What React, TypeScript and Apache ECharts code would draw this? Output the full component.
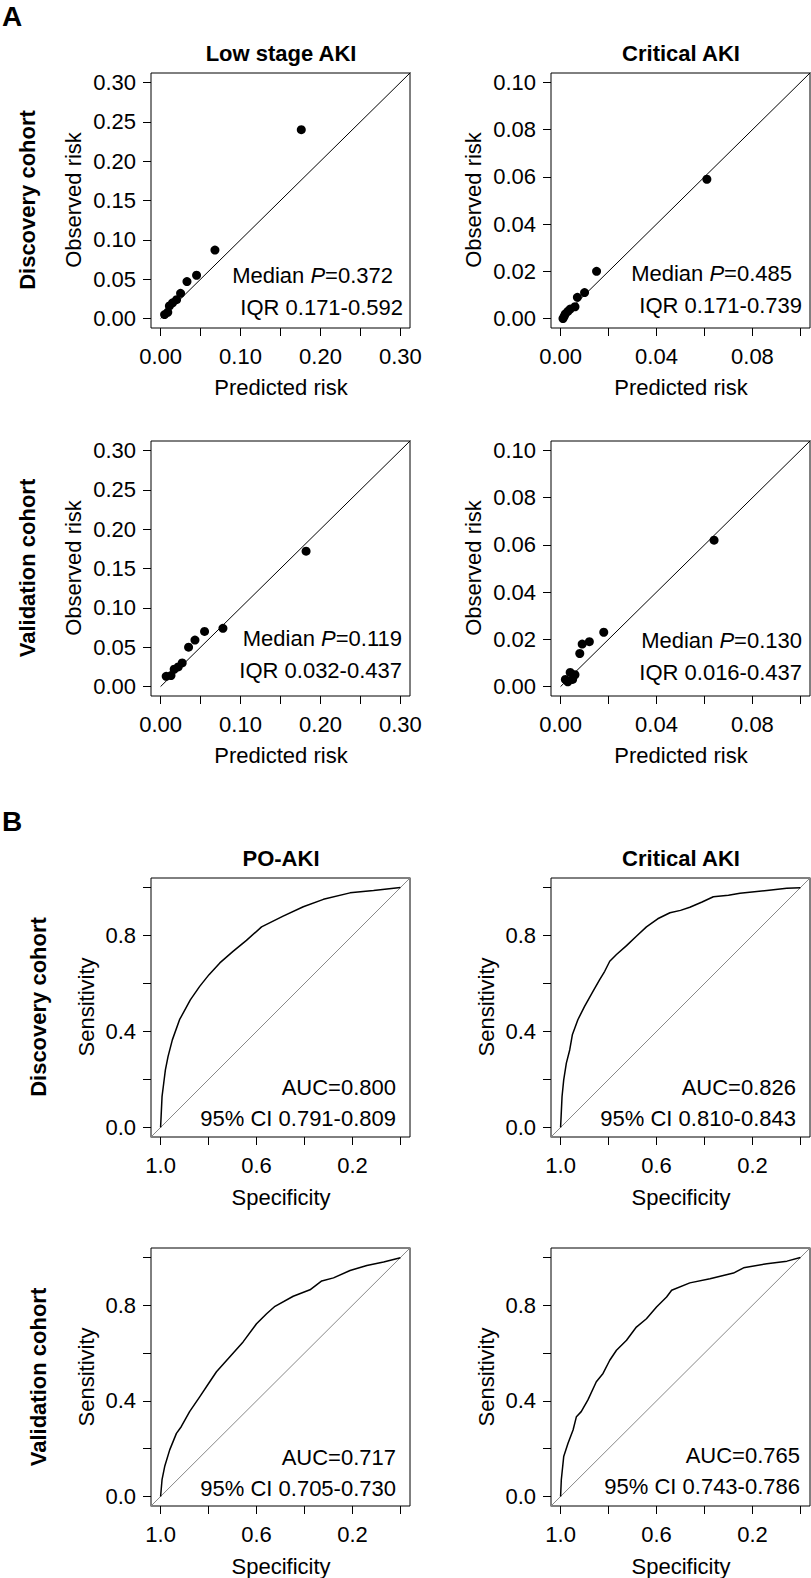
import React, { useEffect, useRef } from 'react';
import * as echarts from 'echarts';

const FONT = '"Liberation Sans", Arial, Helvetica, sans-serif';

// ---- Panel A: calibration (predicted vs observed risk) ----
const lowDiscPred = [0.176, 0.068, 0.045, 0.033, 0.025, 0.020, 0.015, 0.011, 0.009, 0.005];
const lowDiscObs = [0.240, 0.087, 0.055, 0.047, 0.032, 0.024, 0.020, 0.016, 0.008, 0.005];
const critDiscPred = [0.061, 0.015, 0.010, 0.007, 0.006, 0.004, 0.003, 0.002, 0.0015, 0.001];
const critDiscObs = [0.059, 0.020, 0.011, 0.009, 0.005, 0.004, 0.003, 0.002, 0.001, 0.000];
const lowValPred = [0.182, 0.078, 0.055, 0.043, 0.035, 0.027, 0.022, 0.017, 0.013, 0.007];
const lowValObs = [0.172, 0.074, 0.070, 0.059, 0.050, 0.030, 0.025, 0.022, 0.014, 0.013];
const critValPred = [0.064, 0.018, 0.012, 0.009, 0.008, 0.004, 0.006, 0.005, 0.002, 0.003];
const critValObs = [0.062, 0.023, 0.019, 0.018, 0.014, 0.006, 0.005, 0.003, 0.003, 0.002];

// ---- Panel B: ROC curves ----
const poDiscSpec = [1.0, 0.994, 0.987, 0.98, 0.969, 0.951, 0.921, 0.876, 0.837, 0.798, 0.753, 0.698, 0.642, 0.579, 0.489, 0.405, 0.321, 0.21, 0.112, 0.0];
const poDiscSens = [0.0, 0.128, 0.184, 0.24, 0.295, 0.365, 0.449, 0.532, 0.588, 0.637, 0.686, 0.734, 0.78, 0.836, 0.881, 0.92, 0.951, 0.978, 0.988, 1.0];
const critRocDiscSpec = [1.0, 0.994, 0.987, 0.976, 0.962, 0.951, 0.928, 0.9, 0.865, 0.837, 0.816, 0.795, 0.767, 0.725, 0.684, 0.642, 0.595, 0.544, 0.5, 0.461, 0.41, 0.363, 0.3, 0.252, 0.14, 0.057, 0.0];
const critRocDiscSens = [0.0, 0.128, 0.198, 0.268, 0.323, 0.386, 0.449, 0.505, 0.567, 0.616, 0.651, 0.693, 0.721, 0.758, 0.797, 0.836, 0.87, 0.895, 0.905, 0.918, 0.94, 0.962, 0.968, 0.976, 0.988, 0.997, 0.999];
const poValSpec = [1.0, 0.994, 0.983, 0.962, 0.934, 0.914, 0.879, 0.837, 0.795, 0.767, 0.712, 0.656, 0.6, 0.558, 0.523, 0.447, 0.377, 0.328, 0.279, 0.21, 0.14, 0.07, 0.0];
const poValSens = [0.0, 0.07, 0.125, 0.195, 0.264, 0.292, 0.355, 0.417, 0.48, 0.522, 0.584, 0.647, 0.723, 0.765, 0.796, 0.838, 0.865, 0.902, 0.915, 0.946, 0.967, 0.981, 0.999];
const critRocValSpec = [1.0, 0.997, 0.987, 0.969, 0.948, 0.934, 0.914, 0.886, 0.851, 0.823, 0.795, 0.767, 0.725, 0.684, 0.642, 0.6, 0.558, 0.537, 0.461, 0.377, 0.279, 0.237, 0.14, 0.056, 0.0];
const critRocValSens = [0.0, 0.07, 0.167, 0.223, 0.278, 0.334, 0.355, 0.404, 0.48, 0.515, 0.57, 0.612, 0.654, 0.709, 0.744, 0.793, 0.835, 0.863, 0.894, 0.911, 0.935, 0.957, 0.974, 0.985, 1.0];

// ---- tick values and labels ----
const lowTicks = [0, 0.05, 0.1, 0.15, 0.2, 0.25, 0.3];
const lowXLabels = [0, 0.1, 0.2, 0.3];
const lowYLabels = [0, 0.05, 0.1, 0.15, 0.2, 0.25, 0.3];
const critTicks = [0, 0.02, 0.04, 0.06, 0.08, 0.1];
const critXLabels = [0, 0.04, 0.08];
const critYLabels = [0, 0.02, 0.04, 0.06, 0.08, 0.1];
const rocTicks = [0, 0.2, 0.4, 0.6, 0.8, 1.0];
const rocXLabels = [1.0, 0.6, 0.2];
const rocYLabels = [0.0, 0.4, 0.8];

// ---- texts ----
const medianP = ['0.372', '0.485', '0.119', '0.130'];
const iqrText = ['IQR 0.171-0.592', 'IQR 0.171-0.739', 'IQR 0.032-0.437', 'IQR 0.016-0.437'];
const aucText = ['AUC=0.800', 'AUC=0.826', 'AUC=0.717', 'AUC=0.765'];
const ciText = ['95% CI 0.791-0.809', '95% CI 0.810-0.843', '95% CI 0.705-0.730', '95% CI 0.743-0.786'];
const panelATitles = ['Low stage AKI', 'Critical AKI'];
const panelBTitles = ['PO-AKI', 'Critical AKI'];
const cohorts = ['Discovery cohort', 'Validation cohort'];

const zip = (a: number[], b: number[]) => a.map((v, i) => [v, b[i]]);

const grids = [
  { left: 151, top: 73, width: 259, height: 255 },
  { left: 551, top: 73, width: 259, height: 255 },
  { left: 151, top: 441, width: 259, height: 255 },
  { left: 551, top: 441, width: 259, height: 255 },
  { left: 151, top: 878, width: 259, height: 259 },
  { left: 551, top: 878, width: 259, height: 259 },
  { left: 151, top: 1248, width: 259, height: 258 },
  { left: 551, top: 1248, width: 259, height: 258 },
];

function axis(gridIndex: number, min: number, max: number, ticks: number[], labels: number[], digits: number, inverse = false, isX = true) {
  return {
    type: 'value',
    gridIndex,
    min,
    max,
    inverse,
    axisLine: { show: false, onZero: false },
    axisTick: { show: true, inside: false, length: 8, customValues: ticks, lineStyle: { color: '#000', width: 1 } },
    axisLabel: {
      show: true,
      customValues: labels,
      formatter: (v: number) => Number(v).toFixed(digits),
      color: '#000',
      fontSize: 22,
      fontFamily: FONT,
      margin: isX ? 17 : 15,
    },
    splitLine: { show: false },
  };
}

export default function App() {
  const ref = useRef<HTMLDivElement>(null);
  useEffect(() => {
    if (!ref.current) return;
    const chart = echarts.init(ref.current, undefined, { renderer: 'svg' });

    const xAxes: any[] = [];
    const yAxes: any[] = [];
    const series: any[] = [];

    const calib = [
      { px: lowDiscPred, ob: lowDiscObs, low: true },
      { px: critDiscPred, ob: critDiscObs, low: false },
      { px: lowValPred, ob: lowValObs, low: true },
      { px: critValPred, ob: critValObs, low: false },
    ];
    calib.forEach((c, i) => {
      if (c.low) {
        xAxes.push(axis(i, -0.012, 0.312, lowTicks, lowXLabels, 2, false, true));
        yAxes.push(axis(i, -0.012, 0.312, lowTicks, lowYLabels, 2, false, false));
      } else {
        xAxes.push(axis(i, -0.004, 0.104, critTicks, critXLabels, 2, false, true));
        yAxes.push(axis(i, -0.004, 0.104, critTicks, critYLabels, 2, false, false));
      }
      series.push({
        type: 'line', xAxisIndex: i, yAxisIndex: i, data: [[0, 0], [0.5, 0.5]], symbol: 'none', clip: true,
        lineStyle: { color: '#000', width: 1 }, silent: true, z: 2,
      });
      series.push({
        type: 'scatter', xAxisIndex: i, yAxisIndex: i, data: zip(c.px, c.ob), symbol: 'circle', symbolSize: 9,
        itemStyle: { color: '#000', opacity: 1 }, silent: true, z: 3,
      });
    });

    const rocs = [
      [poDiscSpec, poDiscSens],
      [critRocDiscSpec, critRocDiscSens],
      [poValSpec, poValSens],
      [critRocValSpec, critRocValSens],
    ];
    rocs.forEach((r, k) => {
      const i = k + 4;
      xAxes.push(axis(i, -0.04, 1.04, rocTicks, rocXLabels, 1, true, true));
      yAxes.push(axis(i, -0.04, 1.04, rocTicks, rocYLabels, 1, false, false));
      series.push({
        type: 'line', xAxisIndex: i, yAxisIndex: i, data: [[1.1, -0.1], [-0.1, 1.1]], symbol: 'none', clip: true,
        lineStyle: { color: '#888', width: 1 }, silent: true, z: 2,
      });
      series.push({
        type: 'line', xAxisIndex: i, yAxisIndex: i, data: zip(r[0], r[1]), symbol: 'none', clip: true,
        lineStyle: { color: '#000', width: 1.5 }, silent: true, z: 3,
      });
    });

    const base = { fontSize: 22, fontFamily: FONT, fill: '#000' };
    const t = (x: number, y: number, text: string, extra: any = {}, rot = 0) => ({
      type: 'text', x, y, rotation: rot, silent: true,
      style: { ...base, text, align: 'center', verticalAlign: 'middle', ...extra },
    });
    const rich = {
      n: { fontSize: 22, fontFamily: FONT, fill: '#000' },
      i: { fontSize: 22, fontFamily: FONT, fill: '#000', fontStyle: 'italic' },
    };

    const graphics: any[] = [];
    graphics.push(t(2, 16, 'A', { fontSize: 28, fontWeight: 'bold', align: 'left' }));
    graphics.push(t(2, 821, 'B', { fontSize: 28, fontWeight: 'bold', align: 'left' }));
    // titles
    graphics.push(t(281, 53, panelATitles[0], { fontWeight: 'bold' }));
    graphics.push(t(681, 53, panelATitles[1], { fontWeight: 'bold' }));
    graphics.push(t(281, 858, panelBTitles[0], { fontWeight: 'bold' }));
    graphics.push(t(681, 858, panelBTitles[1], { fontWeight: 'bold' }));
    // cohort labels
    graphics.push(t(27, 200, cohorts[0], { fontWeight: 'bold' }, Math.PI / 2));
    graphics.push(t(27, 568, cohorts[1], { fontWeight: 'bold' }, Math.PI / 2));
    graphics.push(t(38, 1007, cohorts[0], { fontWeight: 'bold' }, Math.PI / 2));
    graphics.push(t(38, 1377, cohorts[1], { fontWeight: 'bold' }, Math.PI / 2));
    // axis titles
    [0, 400].forEach((dx) => {
      graphics.push(t(73 + dx, 200, 'Observed risk', {}, Math.PI / 2));
      graphics.push(t(73 + dx, 568, 'Observed risk', {}, Math.PI / 2));
      graphics.push(t(86 + dx, 1007, 'Sensitivity', {}, Math.PI / 2));
      graphics.push(t(86 + dx, 1377, 'Sensitivity', {}, Math.PI / 2));
      graphics.push(t(281 + dx, 387, 'Predicted risk'));
      graphics.push(t(281 + dx, 755, 'Predicted risk'));
      graphics.push(t(281 + dx, 1197, 'Specificity'));
      graphics.push(t(281 + dx, 1566, 'Specificity'));
    });
    // annotations
    const medPos = [[393, 275], [792, 273], [402, 638], [802, 640]];
    const iqrPos = [[403, 307], [802, 305], [402, 670], [802, 672]];
    medianP.forEach((p, k) => {
      graphics.push({
        type: 'text', x: medPos[k][0], y: medPos[k][1], silent: true,
        style: { ...base, text: `{n|Median }{i|P}{n|=${p}}`, rich, align: 'right', verticalAlign: 'middle' },
      });
      graphics.push(t(iqrPos[k][0], iqrPos[k][1], iqrText[k], { align: 'right' }));
    });
    const aucPos = [[396, 1087], [796, 1087], [396, 1457], [800, 1455]];
    const ciPos = [[396, 1118], [796, 1118], [396, 1488], [800, 1486]];
    aucText.forEach((a, k) => {
      graphics.push(t(aucPos[k][0], aucPos[k][1], a, { align: 'right' }));
      graphics.push(t(ciPos[k][0], ciPos[k][1], ciText[k], { align: 'right' }));
    });

    chart.setOption({
      animation: false,
      backgroundColor: '#fff',
      grid: grids.map((g) => ({ ...g, show: true, borderColor: '#000', borderWidth: 1, backgroundColor: 'transparent', containLabel: false })),
      xAxis: xAxes,
      yAxis: yAxes,
      series,
      graphic: graphics,
    });
    return () => chart.dispose();
  }, []);
  return <div ref={ref} style={{ position: 'absolute', left: 0, top: 0, width: 811, height: 1578 }} />;
}
